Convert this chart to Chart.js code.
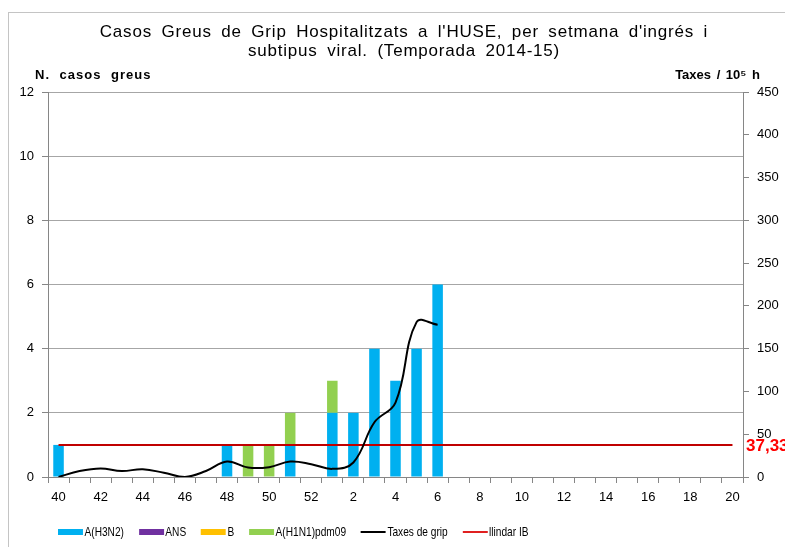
<!DOCTYPE html>
<html>
<head>
<meta charset="utf-8">
<script src="https://cdn.jsdelivr.net/npm/chart.js@4.4.1/dist/chart.umd.min.js"></script>
<style>
  body { margin: 0; width: 785px; height: 547px; overflow: hidden; background: #fff;
         font-family: "Liberation Sans", Arial, sans-serif; position: relative; }
  #frame { position: absolute; left: 8px; top: 12px; width: 900px; height: 700px; border: 1px solid #c4c4c4; }
  #graph-canva { position: absolute; left: 0; top: 0; }
  #title { position: absolute; left: 0; width: 808px; top: 22px; text-align: center;
           font-size: 17px; line-height: 19px; letter-spacing: 0.8px; word-spacing: 4px; color: #000; }
  .unit { position: absolute; top: 67px; font-weight: bold; font-size: 13px; color: #000; }
  #legend { position: absolute; left: 58px; top: 524px; display: flex; align-items: center;
            white-space: nowrap; font-size: 13px; transform: scaleX(0.78); transform-origin: 0 50%; }
  .item { display: flex; align-items: center; margin-right: 19px; }
  .swatch { width: 32px; height: 6px; margin-right: 2px; }
  .swatch.line { height: 2px; }
</style>
</head>
<body>
<div id="frame"></div>
<canvas id="graph-canva" width="785" height="547"></canvas>
<div id="title">Casos Greus de Grip Hospitalitzats a l'HUSE, per setmana d'ingrés i<br>subtipus viral. (Temporada 2014-15)</div>
<div class="unit" style="left:35px; letter-spacing:1px; word-spacing:5px">N. casos greus</div>
<div class="unit" style="right:25px; word-spacing:2px">Taxes / 10⁵ h</div>
<div id="legend"></div>
<script>
const weeks = ['40','41','42','43','44','45','46','47','48','49','50','51','52',
  '1','2','3','4','5','6','7','8','9','10','11','12','13','14','15','16','17','18','19','20'];

// cases per week (33 weeks: 40..52, 1..20)
const casosH3N2 = [1,0,0,0,0,0,0,0,1,0,0,1,0, 2,2,4,3,4,6,0,0,0,0,0,0,0,0,0,0,0,0,0,0];
const casosANS  = [0,0,0,0,0,0,0,0,0,0,0,0,0, 0,0,0,0,0,0,0,0,0,0,0,0,0,0,0,0,0,0,0,0];
const casosB    = [0,0,0,0,0,0,0,0,0,0,0,0,0, 0,0,0,0,0,0,0,0,0,0,0,0,0,0,0,0,0,0,0,0];
const casosH1N1 = [0,0,0,0,0,0,0,0,0,1,1,1,0, 1,0,0,0,0,0,0,0,0,0,0,0,0,0,0,0,0,0,0,0];

// rate per 100.000 h (weeks 40..6)
const taxes = [0,7,10,7,9,5,0,7,18,11,11.5,18,15, 9.5,17,64,87,181,178];
const llindar = 37.33;

const axisGrey = '#868686';

const data = {
  labels: weeks,
  datasets: [
    { type:'bar', label:'A(H3N2)', data:casosH3N2, backgroundColor:'#00B0F0', yAxisID:'y', order:1 },
    { type:'bar', label:'ANS', data:casosANS, backgroundColor:'#7030A0', yAxisID:'y', order:1 },
    { type:'bar', label:'B', data:casosB, backgroundColor:'#FFC000', yAxisID:'y', order:1 },
    { type:'bar', label:'A(H1N1)pdm09', data:casosH1N1, backgroundColor:'#92D050', yAxisID:'y', order:1 },
    { type:'line', label:'Taxes  de grip', data:taxes, borderColor:'#000000', backgroundColor:'#000000',
      borderWidth:2, pointRadius:0, tension:0.4, yAxisID:'y2', order:0 },
    { type:'line', label:'llindar IB', data:weeks.map(() => llindar), borderColor:'#C00000', backgroundColor:'#E02020',
      borderWidth:2, pointRadius:0, yAxisID:'y2', order:0 }
  ]
};

const llindarLabel = {
  id: 'llindarLabel',
  afterDatasetsDraw(chart) {
    const {ctx, chartArea, scales} = chart;
    const y = scales.y2.getPixelForValue(llindar);
    ctx.save();
    ctx.fillStyle = '#FF0000';
    ctx.font = 'bold 17px "Liberation Sans", Arial, sans-serif';
    ctx.textBaseline = 'middle';
    ctx.fillText(llindar.toFixed(2).replace('.', ','), chartArea.right + 3, y + 1);
    ctx.restore();
  }
};

const tickFont = { family:'"Liberation Sans", Arial, sans-serif', size:13 };

const config = {
  type: 'bar',
  data: data,
  options: {
    responsive: false,
    animation: false,
    layout: { padding: { top: 92, bottom: 40, left: 0, right: 0 } },
    datasets: { bar: { categoryPercentage: 0.5, barPercentage: 1, borderWidth: 0 } },
    plugins: { legend: { display: false }, title: { display: false }, tooltip: { enabled: false } },
    scales: {
      x: {
        stacked: true,
        offset: true,
        grid: { offset: true, drawOnChartArea: false, drawTicks: true, tickLength: 6, color: axisGrey },
        border: { color: axisGrey },
        ticks: { autoSkip: false, maxRotation: 0, padding: 7, color: '#000', font: tickFont,
                 callback: (v, i) => i % 2 === 0 ? weeks[i] : '' },
        afterFit: s => { s.height = 30; }
      },
      y: {
        position: 'left',
        stacked: true,
        min: 0, max: 12,
        grid: { color: '#A6A6A6', tickColor: axisGrey, tickLength: 6 },
        border: { color: axisGrey },
        ticks: { stepSize: 2, padding: 8, color: '#000', font: tickFont },
        afterFit: s => { s.width = 48; }
      },
      y2: {
        position: 'right',
        min: 0, max: 450,
        grid: { drawOnChartArea: false, color: axisGrey, tickLength: 6 },
        border: { color: axisGrey },
        ticks: { stepSize: 50, padding: 8, color: '#000', font: tickFont },
        afterFit: s => { s.width = 42; }
      }
    }
  },
  plugins: [llindarLabel]
};

const chart = new Chart(document.getElementById('graph-canva'), config);

// legend built from the datasets
const legend = document.getElementById('legend');
data.datasets.forEach(ds => {
  const item = document.createElement('div');
  item.className = 'item';
  const sw = document.createElement('div');
  sw.className = 'swatch' + (ds.type === 'line' ? ' line' : '');
  sw.style.background = ds.backgroundColor;
  const txt = document.createElement('span');
  txt.textContent = ds.label;
  item.appendChild(sw);
  item.appendChild(txt);
  legend.appendChild(item);
});
</script>
</body>
</html>
